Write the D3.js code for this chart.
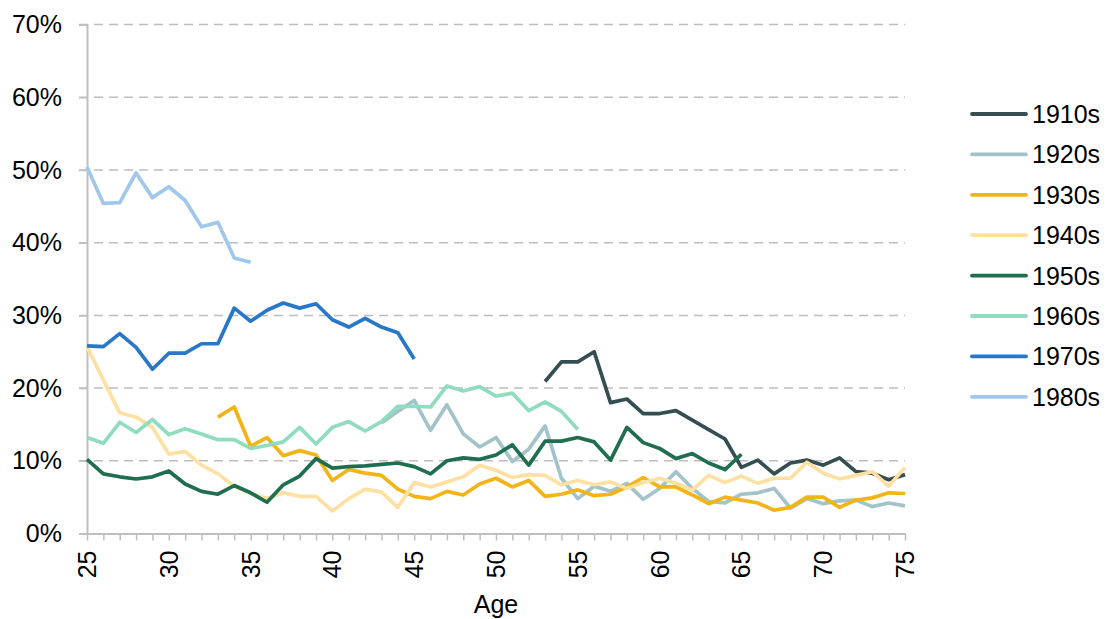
<!DOCTYPE html>
<html>
<head>
<meta charset="utf-8">
<script src="https://cdnjs.cloudflare.com/ajax/libs/d3/7.8.5/d3.min.js"></script>
<style>
  body { margin: 0; background: #fff; }
  text { font-family: "Liberation Sans", Arial, sans-serif; fill: #000; }
</style>
</head>
<body>
<svg id="chart"></svg>
<script>
// values in %, indexed by age starting at each series' first age
const cohorts = ['1910s', '1920s', '1930s', '1940s', '1950s', '1960s', '1970s', '1980s'];
const startAge = { '1910s': 53, '1920s': 43, '1930s': 33, '1940s': 25, '1950s': 25, '1960s': 25, '1970s': 25, '1980s': 25 };

const v1910s = [20.9, 23.6, 23.6, 25.0, 18.0, 18.5, 16.5, 16.5, 16.9, 15.6, 14.3, 13.0, 9.1, 10.1, 8.2, 9.7, 10.1, 9.4, 10.4, 8.5, 8.3, 7.4, 8.1];
const v1920s = [15.2, 16.8, 18.3, 14.2, 17.7, 13.7, 11.9, 13.2, 9.9, 11.6, 14.8, 7.6, 4.8, 6.5, 5.8, 6.9, 4.7, 6.2, 8.5, 6.2, 4.4, 4.2, 5.4, 5.6, 6.2, 3.5, 4.8, 4.1, 4.5, 4.6, 3.7, 4.2, 3.8];
const v1930s = [16.0, 17.4, 12.0, 13.2, 10.7, 11.4, 10.8, 7.3, 8.8, 8.3, 8.0, 6.1, 5.1, 4.8, 5.8, 5.3, 6.8, 7.6, 6.4, 7.3, 5.1, 5.4, 6.0, 5.2, 5.4, 6.4, 7.7, 6.4, 6.4, 5.3, 4.1, 5.0, 4.6, 4.2, 3.2, 3.6, 5.0, 5.0, 3.6, 4.6, 4.9, 5.6, 5.5];
const v1940s = [25.7, 21.1, 16.6, 16.0, 14.6, 10.9, 11.3, 9.4, 8.2, 6.5, 5.5, 4.8, 5.6, 5.1, 5.1, 3.1, 4.8, 6.1, 5.7, 3.6, 7.0, 6.4, 7.1, 7.8, 9.4, 8.7, 7.7, 8.1, 8.0, 6.7, 7.3, 6.7, 7.1, 6.2, 7.0, 7.6, 6.9, 6.0, 8.0, 7.0, 7.9, 6.9, 7.6, 7.6, 9.8, 8.3, 7.5, 8.0, 8.5, 6.5, 9.1];
const v1950s = [10.2, 8.2, 7.8, 7.5, 7.8, 8.6, 6.8, 5.8, 5.4, 6.6, 5.6, 4.3, 6.7, 7.9, 10.3, 9.0, 9.2, 9.3, 9.5, 9.7, 9.2, 8.2, 10.0, 10.4, 10.2, 10.8, 12.2, 9.4, 12.7, 12.7, 13.2, 12.6, 10.1, 14.6, 12.5, 11.7, 10.3, 11.0, 9.7, 8.8, 10.9];
const v1960s = [13.2, 12.4, 15.3, 13.9, 15.7, 13.6, 14.4, 13.7, 12.9, 12.9, 11.7, 12.1, 12.6, 14.6, 12.3, 14.6, 15.4, 14.1, 15.4, 17.5, 17.5, 17.4, 20.3, 19.6, 20.2, 18.9, 19.3, 16.9, 18.1, 16.8, 14.3];
const v1970s = [25.8, 25.7, 27.5, 25.6, 22.6, 24.8, 24.8, 26.1, 26.1, 31.0, 29.2, 30.7, 31.7, 31.0, 31.6, 29.4, 28.4, 29.6, 28.4, 27.6, 24.0];
const v1980s = [50.4, 45.4, 45.5, 49.6, 46.2, 47.7, 45.8, 42.2, 42.8, 37.9, 37.3];

const seriesValues = { '1910s': v1910s, '1920s': v1920s, '1930s': v1930s, '1940s': v1940s, '1950s': v1950s, '1960s': v1960s, '1970s': v1970s, '1980s': v1980s };
const colors = ['#344e52', '#a2c3ca', '#f2b417', '#fde0a2', '#1f6e4f', '#8fdcbe', '#2878c9', '#a0c8ec'];

const yTicks = [0, 10, 20, 30, 40, 50, 60, 70];
const xTicks = [25, 30, 35, 40, 45, 50, 55, 60, 65, 70, 75];

const W = 1107, H = 619;
const margin = { top: 24.6, right: 202, bottom: 85.5, left: 87 };
const width = W - margin.left - margin.right;
const height = H - margin.top - margin.bottom;
const fontSize = '25px';

const svg = d3.select('#chart').attr('width', W).attr('height', H);
const g = svg.append('g').attr('transform', `translate(${margin.left},${margin.top})`);

const x = d3.scaleLinear().domain([25, 75]).range([0, width]);
const y = d3.scaleLinear().domain([0, 70]).range([height, 0]);

// gridlines
g.selectAll('.grid')
  .data(yTicks.filter(d => d > 0))
  .enter()
  .append('line')
  .attr('x1', -8).attr('x2', width)
  .attr('y1', d => y(d)).attr('y2', d => y(d))
  .attr('stroke', '#bdbdbd')
  .attr('stroke-width', 1.5)
  .attr('stroke-dasharray', '9,6');

// y axis
const yAxis = g.append('g')
  .call(d3.axisLeft(y).tickValues(yTicks).tickFormat(d => d + '%').tickSize(8).tickPadding(17));
yAxis.select('.domain').attr('stroke', '#bfbfbf').attr('stroke-width', 2);
yAxis.selectAll('.tick line').attr('stroke', '#bfbfbf').attr('stroke-width', 1.5);
yAxis.selectAll('text').style('font-size', fontSize).attr('fill', '#000');

// x axis with a tick every year
const xAxis = g.append('g')
  .attr('transform', `translate(0,${height})`)
  .call(d3.axisBottom(x).tickValues(d3.range(25, 76)).tickFormat('').tickSizeInner(7).tickSizeOuter(0));
xAxis.select('.domain').attr('stroke', '#bfbfbf').attr('stroke-width', 2);
xAxis.selectAll('.tick line').attr('stroke', '#bfbfbf').attr('stroke-width', 1.5);

g.append('g')
  .selectAll('text')
  .data(xTicks)
  .enter()
  .append('text')
  .attr('transform', d => `translate(${x(d) + 9},${height + 17}) rotate(-90)`)
  .attr('text-anchor', 'end')
  .style('font-size', fontSize)
  .text(d => d);

g.append('text')
  .attr('x', x(50))
  .attr('y', height + 80)
  .attr('text-anchor', 'middle')
  .style('font-size', fontSize)
  .text('Age');

// lines
const line = d3.line()
  .x(d => x(d.age))
  .y(d => y(d.value));

cohorts.forEach((c, i) => {
  const pts = seriesValues[c].map((v, j) => ({ age: startAge[c] + j, value: v }));
  g.append('path')
    .datum(pts)
    .attr('fill', 'none')
    .attr('stroke', colors[i])
    .attr('stroke-width', 3.7)
    .attr('stroke-linejoin', 'round')
    .attr('d', line);
});

// legend
const legend = svg.append('g').attr('transform', 'translate(972,114)');
const item = legend.selectAll('g')
  .data(cohorts)
  .enter()
  .append('g')
  .attr('transform', (d, i) => `translate(0,${i * 40.4})`);
item.append('line')
  .attr('x1', 0).attr('x2', 54)
  .attr('stroke', (d, i) => colors[i])
  .attr('stroke-width', 3.8)
  .attr('stroke-linecap', 'round');
item.append('text')
  .attr('x', 60)
  .attr('dy', '0.36em')
  .style('font-size', fontSize)
  .text(d => d);
</script>
</body>
</html>
